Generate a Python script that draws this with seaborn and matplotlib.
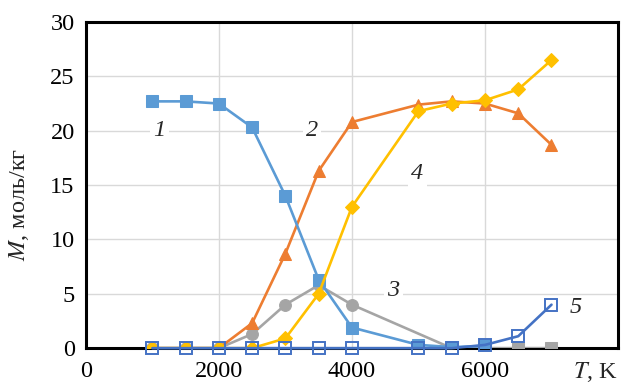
import matplotlib
matplotlib.use("Agg")
import matplotlib.pyplot as plt
import seaborn as sns
import pandas as pd

# ---- data ----
T1 = [1000, 1500, 2000, 2500, 3000, 3500, 4000, 5000, 5500, 6000]
M1 = [22.7, 22.7, 22.5, 20.3, 14.0, 6.3, 1.9, 0.3, 0.1, 0.2]

T2 = [1000, 1500, 2000, 2500, 3000, 3500, 4000, 5000, 5500, 6000, 6500, 7000]
M2 = [0.0, 0.0, 0.0, 2.3, 8.7, 16.3, 20.8, 22.4, 22.7, 22.5, 21.6, 18.7]

T3 = [1000, 1500, 2000, 2500, 3000, 3500, 4000, 5500, 6000, 6500, 7000]
M3 = [0.0, 0.0, 0.0, 1.3, 4.0, 5.8, 4.0, 0.0, 0.0, 0.0, 0.0]
T3sq = [6500, 7000]
M3sq = [0.0, 0.0]

T4 = [1000, 1500, 2000, 2500, 3000, 3500, 4000, 5000, 5500, 6000, 6500, 7000]
M4 = [0.0, 0.0, 0.0, 0.0, 0.9, 5.0, 13.0, 21.8, 22.5, 22.8, 23.8, 26.5]

T5 = [1000, 1500, 2000, 2500, 3000, 3500, 4000, 5000, 5500, 6000, 6500, 7000]
M5 = [0.0, 0.0, 0.0, 0.0, 0.0, 0.0, 0.0, 0.0, 0.0, 0.3, 1.1, 4.0]

curve_labels = ["1", "2", "3", "4", "5"]
label_T = [1110, 3400, 4620, 4980, 7370]
label_M = [20.0, 20.0, 5.3, 16.1, 3.7]

xticks = [0, 2000, 4000, 6000]
yticks = [0, 5, 10, 15, 20, 25, 30]

# ---- style ----
sns.set_theme(style="white")
plt.rcParams["font.family"] = ["Liberation Serif", "DejaVu Serif"]
plt.rcParams["mathtext.fontset"] = "stix"

fig = plt.figure(figsize=(6.22, 3.86), dpi=100)
ax = fig.add_axes([0.138, 0.098, 0.8556, 0.845])

c1, c2, c3, c4, c5 = "#5B9BD5", "#ED7D31", "#A5A5A5", "#FFC000", "#4472C4"
lw = 1.9
ms = 8.5
fs = 17.5

sns.lineplot(x=T3, y=M3, ax=ax, color=c3, marker="o", markersize=ms,
             markeredgecolor=c3, linewidth=lw, zorder=3)
sns.lineplot(x=T3sq, y=M3sq, ax=ax, color=c3, marker="s", markersize=ms,
             markeredgecolor=c3, linewidth=lw, zorder=3)
sns.lineplot(x=T2, y=M2, ax=ax, color=c2, marker="^", markersize=ms + 0.5,
             markeredgecolor=c2, linewidth=lw, zorder=4)
sns.lineplot(x=T1, y=M1, ax=ax, color=c1, marker="s", markersize=ms,
             markeredgecolor=c1, linewidth=lw, zorder=5)
sns.lineplot(x=T4, y=M4, ax=ax, color=c4, marker="D", markersize=ms - 1,
             markeredgecolor=c4, linewidth=lw, zorder=6)
sns.lineplot(x=T5, y=M5, ax=ax, color=c5, marker="s", markersize=ms,
             markerfacecolor="none", markeredgecolor=c5, markeredgewidth=1.4,
             linewidth=lw, zorder=7, clip_on=False)

ax.set_xlim(0, 8000)
ax.set_ylim(0, 30)
ax.set_xticks(xticks + [8000])
ax.set_xticklabels([str(t) for t in xticks] + [""])
ax.set_yticks(yticks)
ax.set_yticklabels([str(t) for t in yticks])
ax.tick_params(axis="x", labelsize=fs, length=0, pad=9, colors="black")
ax.tick_params(axis="y", labelsize=fs, length=0, pad=8, colors="black")

ax.grid(True, color="#D9D9D9", linewidth=1.0)
ax.set_axisbelow(True)
for s in ax.spines.values():
    s.set_visible(True)
    s.set_color("black")
    s.set_linewidth(2.2)

ax.set_xlabel("")
ax.set_ylabel("$M$, моль/кг", fontsize=fs)
ax.yaxis.set_label_coords(-0.103, 0.44)
ax.text(0.958, -0.036, "$T$, K", transform=ax.transAxes, ha="center",
        va="top", fontsize=fs)

for lab, tx, my in zip(curve_labels, label_T, label_M):
    ax.text(tx, my, lab, ha="center", va="center", fontsize=fs,
            fontstyle="italic", zorder=8,
            bbox=dict(facecolor="white", edgecolor="none", pad=2.5)
            if lab != "5" else None)

fig.savefig("out.png", dpi=100)
